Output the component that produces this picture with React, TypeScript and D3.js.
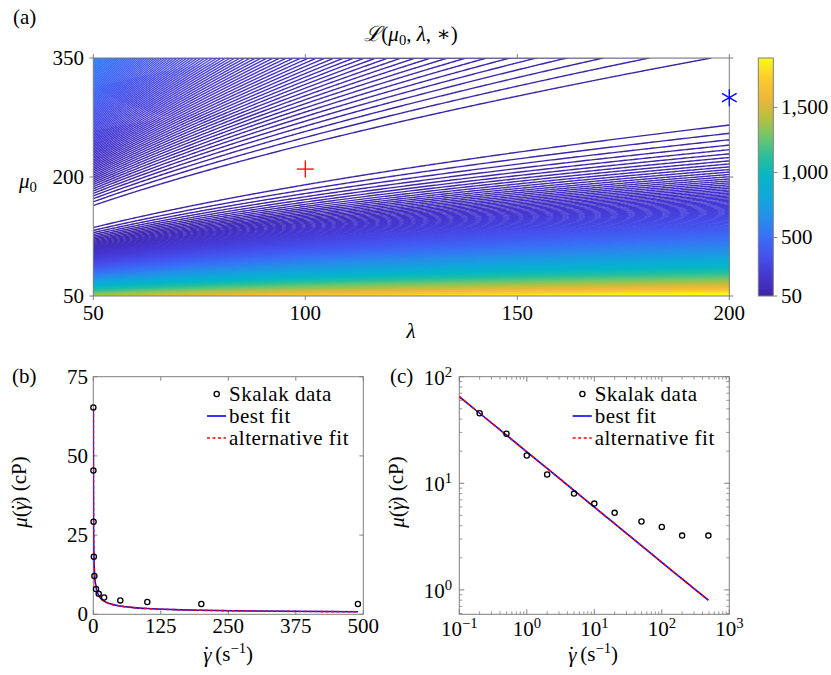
import React, { useMemo } from "react";
import * as d3 from "d3";

// ---------------- data ----------------
const skalakShear = [0.1, 0.2, 0.5, 1, 2, 5, 10, 20, 50, 100, 200, 490];
const skalakVisc = [65.3, 45.4, 29.2, 18.2, 12.1, 8.0, 6.45, 5.28, 4.38, 3.9, 3.23, 3.23];

const fitShear = [0.1, 0.2, 0.5, 1, 2, 3, 5, 10, 20, 30, 50, 75, 100, 150, 200, 300, 490];
const bestFitVisc = [65, 45.4, 28.3, 19.7, 13.8, 11.2, 8.57, 5.98, 4.18, 3.39, 2.6, 2.11, 1.81, 1.47, 1.27, 1.03, 0.8];
const altFitVisc = [65, 45.4, 28.3, 19.7, 13.8, 11.2, 8.57, 5.98, 4.18, 3.39, 2.6, 2.11, 1.81, 1.47, 1.27, 1.03, 0.8];

const lambdaDomain = [50, 200];
const mu0Domain = [50, 350];
const lambdaTicks = [50, 100, 150, 200];
const mu0Ticks = [50, 200, 350];
const colorbarTicks = [50, 500, 1000, 1500];
const colorbarDomain = [50, 1880];
const levelStep = 6.4;
const levelOffset = 9.6;
const bestFitPoint = [100, 210]; // lambda, mu0
const altFitPoint = [200, 300];

const bTicksX = [0, 125, 250, 375, 500];
const bTicksY = [0, 25, 50, 75];
const cDecadesX = [-1, 0, 1, 2, 3];
const cDecadesY = [0, 1, 2];

const parulaStops = [
  "#3e26a8", "#4636d0", "#4650ed", "#3a70f7", "#2590e8", "#10a8da", "#05b6c6",
  "#26bf9d", "#6ec66c", "#b9bf3f", "#f0b73a", "#fbcc2c", "#f9fb15",
];

// ---------------- layout ----------------
const W = 831, H = 675;
const FONT = '"Liberation Serif", "Times New Roman", "DejaVu Serif", serif';
const A = { left: 93.3, right: 729.3, top: 58, bottom: 296 };
const CB = { left: 758.3, right: 773.3, top: 58, bottom: 296 };
const B = { left: 93.3, right: 363.3, top: 376.7, bottom: 614.3 };
const C = { left: 459.3, right: 729.3, top: 376.7, bottom: 614.3 };
const AX = "#7f7f7f";
const FS = 21;

const NX = 320, NY = 240;

// loss of the shear-thinning model fitted to the Skalak data, minimised over the exponent
function computeField() {
  const vals = new Float64Array(NX * NY);
  const m = skalakShear.length;
  const lg = new Float64Array(m);
  const g = (Math.sqrt(5) - 1) / 2;
  let minV = Infinity, maxV = -Infinity;
  for (let i = 0; i < NX; i++) {
    const lam = lambdaDomain[0] + (lambdaDomain[1] - lambdaDomain[0]) * i / (NX - 1);
    for (let k = 0; k < m; k++) lg[k] = Math.log(lam * skalakShear[k]);
    for (let j = 0; j < NY; j++) {
      const mu0 = mu0Domain[1] - (mu0Domain[1] - mu0Domain[0]) * j / (NY - 1);
      const loss = (a: number) => {
        let s = 0;
        for (let k = 0; k < m; k++) {
          const r = mu0 * Math.exp(-a * lg[k]) - skalakVisc[k];
          s += r * r;
        }
        return s;
      };
      let lo = 0, hi = 1.5;
      let x1 = hi - g * (hi - lo), x2 = lo + g * (hi - lo);
      let f1 = loss(x1), f2 = loss(x2);
      for (let it = 0; it < 30; it++) {
        if (f1 < f2) { hi = x2; x2 = x1; f2 = f1; x1 = hi - g * (hi - lo); f1 = loss(x1); }
        else { lo = x1; x1 = x2; f1 = f2; x2 = lo + g * (hi - lo); f2 = loss(x2); }
      }
      const v = Math.min(f1, f2);
      vals[j * NX + i] = v;
      if (v < minV) minV = v;
      if (v > maxV) maxV = v;
    }
  }
  return { vals, minV, maxV };
}

const Mu0 = ({ x, y }: any) => (
  <text x={x} y={y} fontSize={FS}>
    <tspan fontStyle="italic">μ</tspan>
    <tspan fontSize={FS * 0.7} dy={4}>0</tspan>
  </text>
);

const Pow10 = ({ x, y, e, anchor }: any) => (
  <text x={x} y={y} fontSize={FS} textAnchor={anchor}>
    10<tspan fontSize={FS * 0.7} dy={-8}>{e < 0 ? "−" + Math.abs(e) : String(e)}</tspan>
  </text>
);

const GammaDot = () => (
  <>
    <tspan fontStyle="italic">γ</tspan>
    <tspan dx={-8.5} dy={-1}>˙</tspan>
    <tspan dx={1.5} dy={1}></tspan>
  </>
);

export default function App() {
  const field = useMemo(computeField, []);
  const xA = d3.scaleLinear().domain(lambdaDomain).range([A.left, A.right]);
  const yA = d3.scaleLinear().domain(mu0Domain).range([A.bottom, A.top]);
  const cmap = d3.piecewise(d3.interpolateRgb, parulaStops);
  const cScale = (v: number) => cmap(Math.max(0, Math.min(1, (v - colorbarDomain[0]) / (colorbarDomain[1] - colorbarDomain[0]))));
  const yCB = d3.scaleLinear().domain(colorbarDomain).range([CB.bottom, CB.top]);

  const paths = useMemo(() => {
    const levels = d3.range(field.minV + levelOffset, field.maxV, levelStep);
    const conts = d3.contours().size([NX, NY]).thresholds(levels)(Array.from(field.vals));
    const proj = d3.geoTransform({
      point(x: number, y: number) {
        const lam = lambdaDomain[0] + (lambdaDomain[1] - lambdaDomain[0]) * (x - 0.5) / (NX - 1);
        const mu = mu0Domain[1] - (mu0Domain[1] - mu0Domain[0]) * (y - 0.5) / (NY - 1);
        (this as any).stream.point(xA(lam), yA(mu));
      },
    });
    const gp = d3.geoPath(proj);
    return conts.map((c) => ({ d: gp(c as any) || "", v: c.value }));
  }, [field]);

  const xB = d3.scaleLinear().domain([0, 500]).range([B.left, B.right]);
  const yB = d3.scaleLinear().domain([0, 75]).range([B.bottom, B.top]);
  const xC = d3.scaleLog().domain([0.1, 1000]).range([C.left, C.right]);
  const yC = d3.scaleLog().domain([0.59, 100]).range([C.bottom, C.top]);

  const lineB = d3.line<number>().x((_, i) => xB(fitShear[i])).y((v) => yB(v)).curve(d3.curveMonotoneX);
  const lineC = d3.line<number>().x((_, i) => xC(fitShear[i])).y((v) => yC(v));

  const cbStops = d3.range(0, 1.0001, 0.02);

  const minorC: number[] = [];
  for (let e = -1; e < 3; e++) for (let k = 2; k <= 9; k++) minorC.push(k * Math.pow(10, e));
  const minorCY: number[] = [];
  for (let e = -1; e < 2; e++) for (let k = 2; k <= 9; k++) { const v = k * Math.pow(10, e); if (v > 0.59 && v < 100) minorCY.push(v); }

  const legend = (x0: number) => (
    <g fontSize={FS}>
      <circle cx={x0 + 9.7} cy={394} r={2.6} fill="none" stroke="#000" strokeWidth={1.3} />
      <text x={x0 + 22} y={401} letterSpacing={0.5}>Skalak data</text>
      <line x1={x0} x2={x0 + 19} y1={416} y2={416} stroke="#0000ff" strokeWidth={1.6} />
      <text x={x0 + 22} y={423} letterSpacing={0.5}>best fit</text>
      <line x1={x0} x2={x0 + 19} y1={438} y2={438} stroke="#ff0000" strokeWidth={1.6} strokeDasharray="3,2.5" />
      <text x={x0 + 22} y={445} letterSpacing={0.5}>alternative fit</text>
    </g>
  );

  const gammaLabel = (cx: number) => (
    <text x={cx} y={662} fontSize={FS} textAnchor="middle">
      <GammaDot /> (s<tspan fontSize={FS * 0.7} dy={-8}>−1</tspan><tspan dy={8}>)</tspan>
    </text>
  );
  const muLabel = (cx: number) => (
    <text transform={`translate(${cx},492) rotate(-90)`} fontSize={FS} textAnchor="middle">
      <tspan fontStyle="italic">μ</tspan>(<GammaDot />) (cP)
    </text>
  );

  return (
    <svg width={W} height={H} style={{ position: "absolute", left: 0, top: 0, background: "#fff", fontFamily: FONT }} fontFamily={FONT}>
      <defs>
        <clipPath id="clipA"><rect x={A.left} y={A.top} width={A.right - A.left} height={A.bottom - A.top} /></clipPath>
        <clipPath id="clipB"><rect x={B.left} y={B.top} width={B.right - B.left} height={B.bottom - B.top} /></clipPath>
        <clipPath id="clipC"><rect x={C.left} y={C.top} width={C.right - C.left} height={C.bottom - C.top} /></clipPath>
        <linearGradient id="cbGrad" x1="0" y1="1" x2="0" y2="0">
          {cbStops.map((t) => <stop key={t} offset={t} stopColor={cmap(t)} />)}
        </linearGradient>
      </defs>

      {/* ---------- panel (a) ---------- */}
      <text x={13} y={24} fontSize={FS}>(a)</text>
      <text x={411} y={41} fontSize={FS} textAnchor="middle">
        <tspan fontFamily='"DejaVu Serif", serif' fontStyle="italic">ℒ</tspan>(<tspan fontStyle="italic">μ</tspan>
        <tspan fontSize={FS * 0.7} dy={4}>0</tspan><tspan dy={-4}>, </tspan><tspan fontStyle="italic">λ</tspan>, ∗)
      </text>
      <g clipPath="url(#clipA)">
        {paths.map((p, i) => (
          <path key={i} d={p.d} fill="none" stroke={cScale(p.v)} strokeWidth={1.4} />
        ))}
      </g>
      <rect x={A.left} y={A.top} width={A.right - A.left} height={A.bottom - A.top} fill="none" stroke={AX} strokeWidth={1} />
      {lambdaTicks.map((t) => (
        <g key={t}>
          <line x1={xA(t)} x2={xA(t)} y1={A.bottom} y2={A.bottom + 4} stroke={AX} />
          <line x1={xA(t)} x2={xA(t)} y1={A.top} y2={A.top - 4} stroke={AX} />
          <text x={xA(t)} y={320} fontSize={FS} textAnchor="middle">{t}</text>
        </g>
      ))}
      {mu0Ticks.map((t) => (
        <g key={t}>
          <line x1={A.left} x2={A.left - 4} y1={yA(t)} y2={yA(t)} stroke={AX} />
          <line x1={A.right} x2={A.right + 4} y1={yA(t)} y2={yA(t)} stroke={AX} />
          <text x={84} y={yA(t) + 7} fontSize={FS} textAnchor="end">{t}</text>
        </g>
      ))}
      <text x={411} y={338} fontSize={FS} textAnchor="middle" fontStyle="italic">λ</text>
      <Mu0 x={19} y={188} />
      <g stroke="#ff0000" strokeWidth={1.3}>
        <line x1={xA(bestFitPoint[0]) - 8.5} x2={xA(bestFitPoint[0]) + 8.5} y1={yA(bestFitPoint[1])} y2={yA(bestFitPoint[1])} />
        <line x1={xA(bestFitPoint[0])} x2={xA(bestFitPoint[0])} y1={yA(bestFitPoint[1]) - 8.5} y2={yA(bestFitPoint[1]) + 8.5} />
      </g>
      <g stroke="#0000ff" strokeWidth={1.3} transform={`translate(${xA(altFitPoint[0])},${yA(altFitPoint[1])})`}>
        {[90, 30, 150].map((ang) => {
          const r = 8.5, a = (ang * Math.PI) / 180;
          return <line key={ang} x1={-r * Math.cos(a)} y1={-r * Math.sin(a)} x2={r * Math.cos(a)} y2={r * Math.sin(a)} />;
        })}
      </g>
      <rect x={CB.left} y={CB.top} width={CB.right - CB.left} height={CB.bottom - CB.top} fill="url(#cbGrad)" stroke={AX} strokeWidth={1} />
      {colorbarTicks.map((t) => (
        <g key={t}>
          <line x1={CB.right} x2={CB.right + 4} y1={yCB(t)} y2={yCB(t)} stroke={AX} />
          <text x={781} y={yCB(t) + 7} fontSize={FS}>{d3.format(",")(t)}</text>
        </g>
      ))}

      {/* ---------- panel (b) ---------- */}
      <text x={12} y={383} fontSize={FS}>(b)</text>
      <rect x={B.left} y={B.top} width={B.right - B.left} height={B.bottom - B.top} fill="none" stroke={AX} strokeWidth={1} />
      {bTicksX.map((t) => (
        <g key={t}>
          <line x1={xB(t)} x2={xB(t)} y1={B.bottom} y2={B.bottom - 4} stroke={AX} />
          <line x1={xB(t)} x2={xB(t)} y1={B.top} y2={B.top + 4} stroke={AX} />
          <text x={xB(t)} y={633} fontSize={FS} textAnchor="middle">{t}</text>
        </g>
      ))}
      {bTicksY.map((t) => (
        <g key={t}>
          <line x1={B.left} x2={B.left + 4} y1={yB(t)} y2={yB(t)} stroke={AX} />
          <line x1={B.right} x2={B.right - 4} y1={yB(t)} y2={yB(t)} stroke={AX} />
          <text x={88} y={yB(t) + 7} fontSize={FS} textAnchor="end">{t}</text>
        </g>
      ))}
      <g clipPath="url(#clipB)">
        <path d={lineB(bestFitVisc) || ""} fill="none" stroke="#0000ff" strokeWidth={1.6} />
        <path d={lineB(altFitVisc) || ""} fill="none" stroke="#ff0000" strokeWidth={1.6} strokeDasharray="3,2.5" />
      </g>
      {skalakShear.map((s, i) => (
        <circle key={i} cx={xB(s)} cy={yB(skalakVisc[i])} r={2.6} fill="none" stroke="#000" strokeWidth={1.3} />
      ))}
      {legend(207)}
      {muLabel(27)}
      {gammaLabel(228)}

      {/* ---------- panel (c) ---------- */}
      <text x={390} y={383} fontSize={FS}>(c)</text>
      <rect x={C.left} y={C.top} width={C.right - C.left} height={C.bottom - C.top} fill="none" stroke={AX} strokeWidth={1} />
      {cDecadesX.map((e) => {
        const x = xC(Math.pow(10, e));
        return (
          <g key={e}>
            <line x1={x} x2={x} y1={C.bottom} y2={C.bottom - 5} stroke={AX} />
            <line x1={x} x2={x} y1={C.top} y2={C.top + 5} stroke={AX} />
            <Pow10 x={x} y={636} e={e} anchor="middle" />
          </g>
        );
      })}
      {minorC.map((v) => (
        <g key={v}>
          <line x1={xC(v)} x2={xC(v)} y1={C.bottom} y2={C.bottom - 3} stroke={AX} strokeWidth={0.8} />
          <line x1={xC(v)} x2={xC(v)} y1={C.top} y2={C.top + 3} stroke={AX} strokeWidth={0.8} />
        </g>
      ))}
      {cDecadesY.map((e) => {
        const y = yC(Math.pow(10, e));
        return (
          <g key={e}>
            <line x1={C.left} x2={C.left + 5} y1={y} y2={y} stroke={AX} />
            <line x1={C.right} x2={C.right - 5} y1={y} y2={y} stroke={AX} />
            <Pow10 x={452} y={y + 8} e={e} anchor="end" />
          </g>
        );
      })}
      {minorCY.map((v) => (
        <g key={v}>
          <line x1={C.left} x2={C.left + 3} y1={yC(v)} y2={yC(v)} stroke={AX} strokeWidth={0.8} />
          <line x1={C.right} x2={C.right - 3} y1={yC(v)} y2={yC(v)} stroke={AX} strokeWidth={0.8} />
        </g>
      ))}
      <g clipPath="url(#clipC)">
        <path d={lineC(bestFitVisc) || ""} fill="none" stroke="#0000ff" strokeWidth={1.6} />
        <path d={lineC(altFitVisc) || ""} fill="none" stroke="#ff0000" strokeWidth={1.6} strokeDasharray="3,2.5" />
      </g>
      {skalakShear.map((s, i) =>
        s > 0.1 ? <circle key={i} cx={xC(s)} cy={yC(skalakVisc[i])} r={2.6} fill="none" stroke="#000" strokeWidth={1.3} /> : null
      )}
      {legend(572.7)}
      {muLabel(404)}
      {gammaLabel(593)}
    </svg>
  );
}
